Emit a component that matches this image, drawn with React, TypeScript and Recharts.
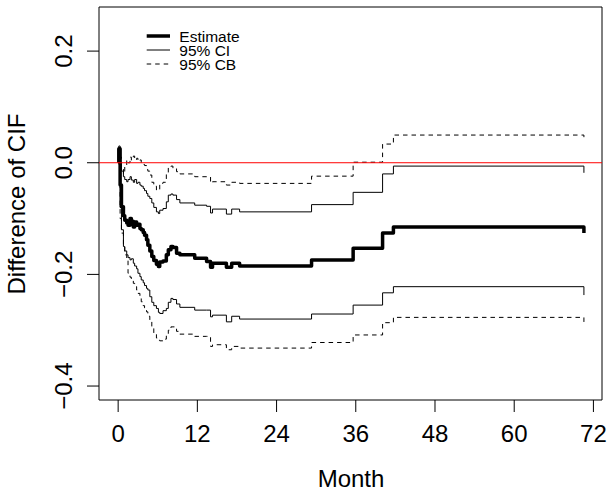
import { Line, LineChart, ReferenceArea, ReferenceLine, XAxis, YAxis } from "recharts";

const months = [0, 0.1, 0.3, 0.5, 0.8, 1.0, 1.3, 1.5, 1.8, 2.0, 2.3, 2.5, 2.8, 3.0, 3.3, 3.5, 3.8, 4.0, 4.3, 4.5, 4.8, 5.1, 5.4, 5.8, 6.1, 6.3, 6.8, 7.3, 7.6, 8.0, 8.3, 8.85, 9.35, 11.6, 13.4, 14.0, 14.3, 16.4, 17.2, 18.4, 29.3, 35.6, 40.06, 41.7, 70.56];

const estimate = [0, 0.025, -0.04, -0.079, -0.095, -0.103, -0.108, -0.112, -0.1, -0.105, -0.115, -0.106, -0.112, -0.11, -0.118, -0.12, -0.125, -0.13, -0.138, -0.148, -0.158, -0.168, -0.175, -0.182, -0.186, -0.178, -0.176, -0.165, -0.156, -0.15, -0.152, -0.162, -0.165, -0.171, -0.177, -0.187, -0.18, -0.187, -0.18, -0.185, -0.174, -0.153, -0.126, -0.115, -0.126];

const ciUpper = [0.02, 0.03, 0.0, -0.015, -0.025, -0.03, -0.034, -0.03, -0.025, -0.031, -0.035, -0.03, -0.037, -0.035, -0.04, -0.042, -0.046, -0.05, -0.055, -0.06, -0.064, -0.072, -0.08, -0.088, -0.091, -0.085, -0.082, -0.07, -0.058, -0.056, -0.058, -0.066, -0.072, -0.076, -0.078, -0.09, -0.083, -0.092, -0.083, -0.088, -0.075, -0.053, -0.02, -0.006, -0.018];

const ciLower = [0, 0.015, -0.08, -0.12, -0.15, -0.158, -0.165, -0.17, -0.174, -0.172, -0.18, -0.185, -0.19, -0.198, -0.204, -0.21, -0.215, -0.22, -0.225, -0.228, -0.24, -0.25, -0.256, -0.261, -0.268, -0.27, -0.265, -0.261, -0.25, -0.243, -0.245, -0.253, -0.259, -0.264, -0.264, -0.276, -0.273, -0.285, -0.275, -0.28, -0.271, -0.255, -0.233, -0.222, -0.237];

const cbUpper = [0.02, 0.03, 0.01, -0.01, -0.02, -0.005, 0.005, 0.0, 0.01, 0.005, 0.012, 0.005, 0.008, 0.003, 0.005, 0.0, -0.003, -0.005, -0.012, -0.015, -0.022, -0.035, -0.042, -0.049, -0.048, -0.037, -0.035, -0.02, -0.007, -0.006, -0.01, -0.016, -0.02, -0.025, -0.025, -0.036, -0.034, -0.04, -0.035, -0.037, -0.024, 0.001, 0.0335, 0.0496, 0.041];

const cbLower = [0, 0.01, -0.1, -0.126, -0.15, -0.165, -0.174, -0.198, -0.205, -0.21, -0.216, -0.222, -0.228, -0.234, -0.242, -0.249, -0.256, -0.26, -0.267, -0.275, -0.285, -0.294, -0.305, -0.314, -0.318, -0.319, -0.316, -0.309, -0.3, -0.294, -0.294, -0.302, -0.307, -0.311, -0.311, -0.329, -0.326, -0.335, -0.329, -0.332, -0.322, -0.3085, -0.2865, -0.277, -0.2865];

const xTicks = [0, 12, 24, 36, 48, 60, 72];
const yTicks = [-0.4, -0.2, 0, 0.2];
const legendItems = ["Estimate", "95% CI", "95% CB"];

const data = months.map((m, i) => ({
  month: m,
  est: estimate[i],
  ciU: ciUpper[i],
  ciL: ciLower[i],
  cbU: cbUpper[i],
  cbL: cbLower[i],
}));

const FONT = "'Liberation Sans', Arial, Helvetica, sans-serif";
const X_DOMAIN = [-2.9, 73.3];
const Y_DOMAIN = [-0.425, 0.279];
const DASH = "4.5 4";

const fmt = (v: number) => v.toFixed(1).replace("-", "\u2212");

const YTick = ({ x, y, payload }: any) => (
  <text
    x={x}
    y={y}
    transform={`rotate(-90, ${x}, ${y})`}
    textAnchor="middle"
    fontSize={24}
    fontFamily={FONT}
    fill="#000"
  >
    {fmt(payload.value)}
  </text>
);

// legend drawn as an overlay so the chart keeps its full plot height
const LegendBox = () => (
  <svg
    width={130}
    height={50}
    style={{ position: "absolute", left: 140, top: 26, fontFamily: FONT }}
  >
    {legendItems.map((name, i) => {
      const cy = 10 + i * 14;
      return (
        <g key={name}>
          <line
            x1={6.7}
            x2={30}
            y1={cy}
            y2={cy}
            stroke="#000"
            strokeWidth={i === 0 ? 3.5 : 1}
            strokeDasharray={i === 2 ? DASH : undefined}
          />
          <text x={39.3} y={cy + 5.5} fontSize={15.5} fill="#000">
            {name}
          </text>
        </g>
      );
    })}
  </svg>
);

export default function App() {
  return (
    <div style={{ position: "absolute", left: 0, top: 0, width: 614, height: 496, background: "#fff" }}>
      <LineChart
        width={614}
        height={496}
        data={data}
        margin={{ top: 7, right: 12, left: 0, bottom: 0 }}
        style={{ fontFamily: FONT }}
      >
        <XAxis
          dataKey="month"
          type="number"
          domain={X_DOMAIN}
          ticks={xTicks}
          allowDataOverflow
          height={96}
          axisLine={false}
          tickSize={12}
          tickMargin={13}
          tickLine={{ stroke: "#000" }}
          tick={{ fill: "#000", fontSize: 24, fontFamily: FONT }}
          label={() => (
            <text x={351} y={487} textAnchor="middle" fontSize={24} fontFamily={FONT} fill="#000">
              Month
            </text>
          )}
        />
        <YAxis
          type="number"
          domain={Y_DOMAIN}
          ticks={yTicks}
          allowDataOverflow
          width={99}
          axisLine={false}
          tickSize={12}
          tickMargin={15}
          tickLine={{ stroke: "#000" }}
          tick={<YTick />}
          label={() => (
            <text
              x={25}
              y={204}
              transform="rotate(-90, 25, 204)"
              textAnchor="middle"
              fontSize={24}
              fontFamily={FONT}
              fill="#000"
            >
              Difference of CIF
            </text>
          )}
        />
        <ReferenceArea
          x1={X_DOMAIN[0]}
          x2={X_DOMAIN[1]}
          y1={Y_DOMAIN[0]}
          y2={Y_DOMAIN[1]}
          fill="none"
          stroke="#000"
          strokeWidth={1}
          ifOverflow="visible"
        />
        <Line type="stepAfter" dataKey="cbU" stroke="#000" strokeWidth={1} strokeDasharray={DASH} dot={false} isAnimationActive={false} />
        <Line type="stepAfter" dataKey="cbL" stroke="#000" strokeWidth={1} strokeDasharray={DASH} dot={false} isAnimationActive={false} />
        <Line type="stepAfter" dataKey="ciU" stroke="#000" strokeWidth={1} dot={false} isAnimationActive={false} />
        <Line type="stepAfter" dataKey="ciL" stroke="#000" strokeWidth={1} dot={false} isAnimationActive={false} />
        <Line type="stepAfter" dataKey="est" stroke="#000" strokeWidth={3.5} strokeLinejoin="round" dot={false} isAnimationActive={false} />
        <ReferenceLine y={0} stroke="#ff0000" strokeWidth={1} />
      </LineChart>
      <LegendBox />
    </div>
  );
}
